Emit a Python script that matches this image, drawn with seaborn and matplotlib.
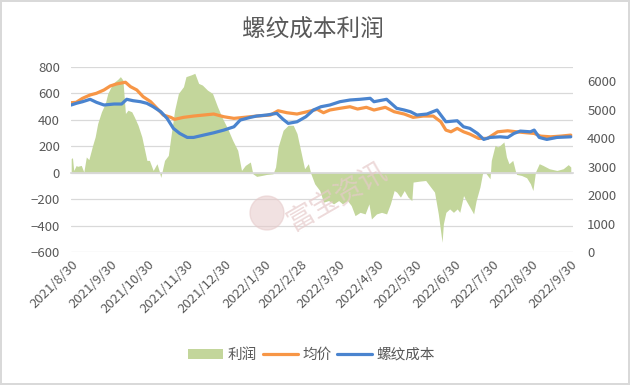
import pandas as pd
import numpy as np
import seaborn as sns
import matplotlib.pyplot as plt
import matplotlib.dates as mdates
from matplotlib.patches import Patch, Ellipse
from matplotlib.lines import Line2D

# values
avg_dates = ['2021-08-30', '2021-09-03', '2021-09-08', '2021-09-14', '2021-09-19', '2021-09-25',
             '2021-09-30', '2021-10-05', '2021-10-12', '2021-10-16', '2021-10-21', '2021-10-26',
             '2021-11-01', '2021-11-06', '2021-11-11', '2021-11-17', '2021-11-20', '2021-11-27',
             '2021-12-05', '2021-12-13', '2021-12-21', '2021-12-29', '2022-01-06', '2022-01-14',
             '2022-01-24', '2022-02-04', '2022-02-10', '2022-02-17', '2022-02-25', '2022-03-05',
             '2022-03-13', '2022-03-18', '2022-03-23', '2022-03-31', '2022-04-08', '2022-04-14',
             '2022-04-21', '2022-04-27', '2022-05-06', '2022-05-13', '2022-05-21', '2022-05-28',
             '2022-06-05', '2022-06-13', '2022-06-19', '2022-06-23', '2022-06-27', '2022-07-02',
             '2022-07-07', '2022-07-12', '2022-07-19', '2022-07-26', '2022-08-03', '2022-08-11',
             '2022-08-18', '2022-08-26', '2022-09-01', '2022-09-06', '2022-09-14', '2022-09-22',
             '2022-09-30']
avg_price = [5245, 5259, 5400, 5517, 5576, 5693,
             5834, 5904, 5964, 5809, 5693, 5457,
             5280, 5048, 4812, 4730, 4660, 4730,
             4776, 4812, 4847, 4752, 4695, 4730,
             4776, 4812, 4963, 4893, 4847, 4928,
             5012, 4893, 4988, 5048, 5104, 5023,
             5083, 4988, 5083, 4928, 4847, 4730,
             4776, 4776, 4575, 4283, 4223, 4343,
             4223, 4142, 3990, 3990, 4223, 4258,
             4223, 4188, 4166, 4071, 4047, 4071,
             4107]

cost_dates = ['2021-08-30', '2021-09-03', '2021-09-08', '2021-09-14', '2021-09-19', '2021-09-25',
              '2021-10-03', '2021-10-09', '2021-10-13', '2021-10-18', '2021-10-24', '2021-10-29',
              '2021-11-03', '2021-11-09', '2021-11-14', '2021-11-19', '2021-11-24', '2021-11-30',
              '2021-12-05', '2021-12-13', '2021-12-21', '2021-12-29', '2022-01-06', '2022-01-11',
              '2022-01-19', '2022-01-24', '2022-02-01', '2022-02-09', '2022-02-14', '2022-02-18',
              '2022-02-25', '2022-03-04', '2022-03-10', '2022-03-16', '2022-03-23', '2022-03-31',
              '2022-04-08', '2022-04-16', '2022-04-24', '2022-04-27', '2022-05-07', '2022-05-15',
              '2022-05-21', '2022-05-26', '2022-05-31', '2022-06-08', '2022-06-16', '2022-06-23',
              '2022-07-02', '2022-07-07', '2022-07-12', '2022-07-18', '2022-07-23', '2022-07-28',
              '2022-08-05', '2022-08-11', '2022-08-16', '2022-08-21', '2022-08-29', '2022-09-01',
              '2022-09-05', '2022-09-11', '2022-09-19', '2022-09-30']
cost = [5164, 5223, 5280, 5365, 5259, 5164,
        5199, 5199, 5365, 5316, 5280, 5223,
        5104, 4928, 4695, 4343, 4166, 4025,
        4025, 4107, 4188, 4283, 4399, 4635,
        4730, 4776, 4812, 4871, 4660, 4519,
        4575, 4752, 4988, 5104, 5164, 5280,
        5340, 5365, 5400, 5280, 5365, 5048,
        4988, 4928, 4812, 4847, 4988, 4575,
        4611, 4399, 4343, 4166, 3955, 4025,
        4047, 4025, 4166, 4248, 4223, 4283,
        4025, 3955, 4025, 4047]

profit_dates = ['2021-08-30', '2021-08-31', '2021-09-01', '2021-09-03', '2021-09-04', '2021-09-07',
                '2021-09-09', '2021-09-11', '2021-09-13', '2021-09-16', '2021-09-18', '2021-09-20',
                '2021-09-23', '2021-09-26', '2021-09-28', '2021-10-02', '2021-10-06', '2021-10-08',
                '2021-10-10', '2021-10-12', '2021-10-14', '2021-10-17', '2021-10-19', '2021-10-22',
                '2021-10-25', '2021-10-27', '2021-10-29', '2021-10-31', '2021-11-03', '2021-11-06',
                '2021-11-08', '2021-11-09', '2021-11-12', '2021-11-15', '2021-11-17', '2021-11-20',
                '2021-11-23', '2021-11-27', '2021-11-29', '2021-12-03', '2021-12-06', '2021-12-09',
                '2021-12-12', '2021-12-16', '2021-12-20', '2021-12-24', '2021-12-28', '2022-01-01',
                '2022-01-05', '2022-01-09', '2022-01-12', '2022-01-15', '2022-01-19', '2022-01-21',
                '2022-01-24', '2022-01-28', '2022-02-01', '2022-02-06', '2022-02-08', '2022-02-10',
                '2022-02-14', '2022-02-18', '2022-02-22', '2022-02-25', '2022-03-01', '2022-03-03',
                '2022-03-06', '2022-03-08', '2022-03-11', '2022-03-15', '2022-03-18', '2022-03-22',
                '2022-03-26', '2022-03-30', '2022-04-02', '2022-04-06', '2022-04-09', '2022-04-12',
                '2022-04-16', '2022-04-20', '2022-04-23', '2022-04-25', '2022-04-29', '2022-05-03',
                '2022-05-07', '2022-05-10', '2022-05-13', '2022-05-15', '2022-05-18', '2022-05-21',
                '2022-05-24', '2022-05-27', '2022-05-28', '2022-06-02', '2022-06-07', '2022-06-10',
                '2022-06-14', '2022-06-17', '2022-06-20', '2022-06-21', '2022-06-23', '2022-06-26',
                '2022-06-29', '2022-07-02', '2022-07-04', '2022-07-07', '2022-07-09', '2022-07-12',
                '2022-07-15', '2022-07-17', '2022-07-20', '2022-07-22', '2022-07-24', '2022-07-26',
                '2022-07-28', '2022-07-29', '2022-08-01', '2022-08-03', '2022-08-05', '2022-08-08',
                '2022-08-10', '2022-08-12', '2022-08-15', '2022-08-17', '2022-08-18', '2022-08-22',
                '2022-08-26', '2022-08-29', '2022-08-31', '2022-09-02', '2022-09-05', '2022-09-08',
                '2022-09-13', '2022-09-19', '2022-09-24', '2022-09-28', '2022-09-30']
profit = [106, 114, 17, 55, 48, 55,
          5, 119, 99, 207, 271, 372,
          461, 524, 600, 676, 707, 727,
          701, 448, 473, 461, 423, 359,
          271, 182, 93, 93, 17, 68,
          5, -36, 93, 131, 271, 473,
          600, 651, 727, 740, 752, 676,
          663, 625, 600, 499, 410, 334,
          245, 169, 17, 55, 81, -8,
          -28, -21, -13, -8, 43, 195,
          321, 359, 359, 296, 119, 30,
          68, -8, -84, -135, -223, -211,
          -236, -211, -236, -211, -249, -325,
          -300, -312, -236, -350, -312, -300,
          -312, -236, -135, -147, -185, -135,
          -185, -211, -71, -64, -59, -97,
          -147, -312, -527, -388, -300, -274,
          -300, -274, -300, -173, -211, -261,
          -312, -211, -109, -8, 5, -21,
          -46, 93, 207, 195, 207, 233,
          119, 68, 93, 17, -13, -21,
          -38, -84, -135, 5, 68, 55,
          30, 17, 30, 61, 43]

tick_dates = ['2021-08-30', '2021-09-30', '2021-10-30', '2021-11-30', '2021-12-30', '2022-01-30',
              '2022-02-28', '2022-03-30', '2022-04-30', '2022-05-30', '2022-06-30', '2022-07-30',
              '2022-08-30', '2022-09-30']
tick_labels = ['2021/8/30', '2021/9/30', '2021/10/30', '2021/11/30', '2021/12/30', '2022/1/30',
               '2022/2/28', '2022/3/30', '2022/4/30', '2022/5/30', '2022/6/30', '2022/7/30',
               '2022/8/30', '2022/9/30']

df_avg = pd.DataFrame({'date': pd.to_datetime(avg_dates), 'value': avg_price})
df_cost = pd.DataFrame({'date': pd.to_datetime(cost_dates), 'value': cost})
df_profit = pd.DataFrame({'date': pd.to_datetime(profit_dates), 'value': profit})

GREEN = '#c3d69b'
ORANGE = '#f79646'
BLUE = '#4a84cf'
GRAY = '#595959'
GRID = '#d9d9d9'

sns.set_theme(style="white")
plt.rcParams['font.family'] = ['Noto Sans CJK SC', 'DejaVu Sans']

fig = plt.figure(figsize=(6.3, 3.85), dpi=100)
fig.patch.set_edgecolor(GRID)
fig.patch.set_linewidth(1.5)
ax = fig.add_axes([0.113, 0.3455, 0.797, 0.4805])

# profit area on the left axis
ax.fill_between(df_profit['date'], df_profit['value'], 0, color=GREEN, linewidth=0, zorder=2)
ax.set_ylim(-600, 800)
ax.set_yticks(range(-600, 801, 200))
ax.grid(axis='y', color=GRID, linewidth=0.9)
ax.set_axisbelow(True)
ax.set_xlim(pd.Timestamp('2021-08-30'), pd.Timestamp('2022-10-02'))
for s in ['top', 'right', 'left']:
    ax.spines[s].set_visible(False)
ax.spines['bottom'].set_position(('data', 0))
ax.spines['bottom'].set_color(GRID)
ax.set_xticks(pd.to_datetime(tick_dates))
ax.tick_params(axis='x', length=4, color=GRID, direction='out', labelbottom=False)
ax.tick_params(axis='y', length=0, labelsize=9.5, labelcolor=GRAY, pad=8)
ax.set_xlabel('')
ax.set_ylabel('')

# date labels stay at the bottom edge
sec = ax.secondary_xaxis('bottom')
sec.set_xticks(pd.to_datetime(tick_dates))
sec.set_xticklabels(tick_labels, rotation=45, ha='right', rotation_mode='anchor')
sec.tick_params(length=0, labelsize=9.5, labelcolor=GRAY, pad=4)
sec.spines['bottom'].set_visible(False)

# price lines on the right axis
ax2 = ax.twinx()
sns.lineplot(data=df_avg, x='date', y='value', ax=ax2, color=ORANGE, linewidth=2.3)
sns.lineplot(data=df_cost, x='date', y='value', ax=ax2, color=BLUE, linewidth=2.3)
ax2.set_ylim(0, 6500)
ax2.set_yticks(range(0, 6001, 1000))
ax2.tick_params(axis='y', length=0, labelsize=9.5, labelcolor=GRAY, pad=10)
ax2.set_xlabel('')
ax2.set_ylabel('')
for s in ax2.spines.values():
    s.set_visible(False)

fig.text(0.497, 0.922, '螺纹成本利润', ha='center', va='center', fontsize=17, color=GRAY)

# watermark
fig.patches.append(Ellipse((267 / 630, 1 - 213 / 385), 34 / 630, 34 / 385,
                           transform=fig.transFigure, color='#e6caca', alpha=0.55, zorder=10))
fig.text(337 / 630, 1 - 197 / 385, '富宝资讯', ha='center', va='center', rotation=30,
         fontsize=20, color='#e6caca', alpha=0.7, zorder=10)

handles = [Patch(facecolor=GREEN, edgecolor='none'),
           Line2D([], [], color=ORANGE, linewidth=2.3),
           Line2D([], [], color=BLUE, linewidth=2.3)]
fig.legend(handles, ['利润', '均价', '螺纹成本'], loc='center', bbox_to_anchor=(0.495, 0.078),
           ncol=3, frameon=False, fontsize=10.5, handlelength=2.4, handletextpad=0.3,
           columnspacing=0.4, labelcolor=GRAY)

fig.savefig('out.png', dpi=100)
